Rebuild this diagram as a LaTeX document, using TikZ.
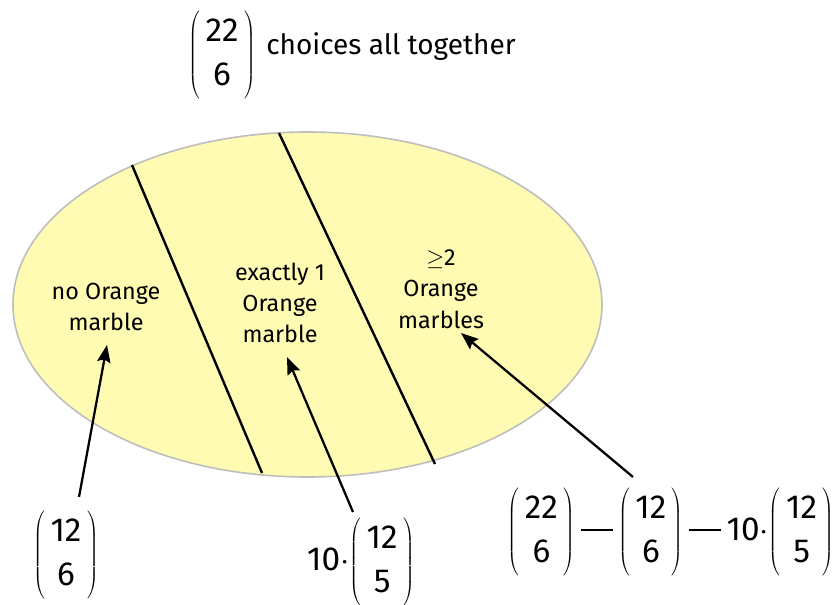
\documentclass[tikz,border=0pt]{standalone}
\usepackage{fontspec}
\setmainfont{Fira Sans}
\usetikzlibrary{arrows.meta,shapes.geometric}
\definecolor{setfill}{RGB}{255,251,178}
\definecolor{setline}{RGB}{190,190,190}
\newcommand{\mybin}[2]{$\left(\vcenter{\hbox{\fontsize{25}{33}\selectfont\begin{tabular}{@{\,}c@{\,}}#1\\#2\end{tabular}}}\right)$}
\tikzset{
  lbl/.style={align=center, font=\fontsize{17.5}{23.5}\selectfont, inner sep=0pt},
  expr/.style={font=\fontsize{25}{33}\selectfont, inner sep=0pt},
  divider/.style={line width=1.8pt, black},
  arr/.style={line width=1.7pt, -{Stealth[length=13pt,width=10pt,inset=2pt]}}
}
\begin{document}
\begin{tikzpicture}[x=0.75pt,y=-0.75pt]
\useasboundingbox (0,0) rectangle (839,605);
% set
\node (set) [ellipse, draw=setline, line width=1.2pt, fill=setfill, minimum width=441.75pt, minimum height=258.75pt, inner sep=0pt] at (307.5,304.5) {};
% dividers
\coordinate (d1a) at (132,165);
\coordinate (d1b) at (262,473);
\coordinate (d2a) at (279,133);
\coordinate (d2b) at (435,464);
\draw[divider] (d1a) -- (d1b);
\draw[divider] (d2a) -- (d2b);
% region labels
\node (r1) [lbl] at (106,307) {no Orange\\marble};
\node (r2) [lbl] at (280,303) {exactly 1\\Orange\\marble};
\node (r3) [lbl] at (441,289) {$\geq$2\\Orange\\marbles};
% top
\node (tb) [expr] at (222,55) {\mybin{22}{6}};
\node (tt) [expr, font=\fontsize{21}{30}\selectfont, anchor=west] at (266,47) {choices all together};
% bottom expressions
\node (e1) [expr] at (66,555) {\mybin{12}{6}};
\node (e2) [expr] at (361,562) {10$\cdot$\mybin{12}{5}};
\node (e3) [expr] at (671,532) {\mybin{22}{6}\,\rule[7pt]{24pt}{1.6pt}\,\mybin{12}{6}\,\rule[7pt]{24pt}{1.6pt}\,10$\cdot$\mybin{12}{5}};
% arrows
\coordinate (a1s) at (79,497);
\coordinate (a1e) at (107,345);
\coordinate (a2s) at (353,512);
\coordinate (a2e) at (287,357);
\coordinate (a3s) at (633,477);
\coordinate (a3e) at (461,333);
\draw[arr] (a1s) -- (a1e);
\draw[arr] (a2s) -- (a2e);
\draw[arr] (a3s) -- (a3e);
\end{tikzpicture}
\end{document}
